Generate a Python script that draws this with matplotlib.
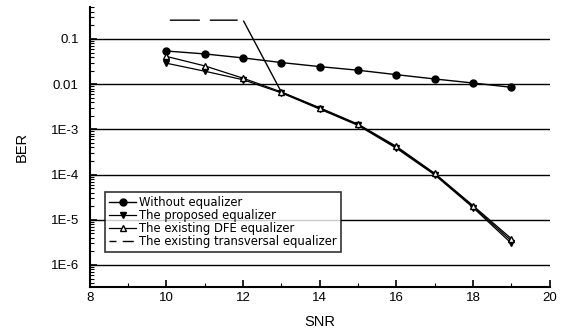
import matplotlib
matplotlib.use("Agg")
import matplotlib.pyplot as plt
from matplotlib.lines import Line2D
from matplotlib.ticker import LogLocator, FixedLocator, NullFormatter

snr = [10, 11, 12, 13, 14, 15, 16, 17, 18, 19]
ber_without = [0.054, 0.0466, 0.038, 0.030, 0.0244, 0.0203, 0.0162, 0.013, 0.0106, 0.0085]
ber_proposed = [0.029, 0.0193, 0.0125, 0.0064, 0.0028, 0.00122, 3.8e-4, 9.8e-5, 1.85e-5, 3.0e-6]
ber_dfe = [0.041, 0.0253, 0.0135, 0.0067, 0.0030, 0.00130, 4.2e-4, 1.06e-4, 2.05e-5, 3.8e-6]
ber_transversal = [0.26, 0.26, 0.26, 0.0066, 0.0029, 0.00126, 4.0e-4, 1.02e-4, 1.95e-5, 3.4e-6]

ytick_vals = [1e-6, 1e-5, 1e-4, 1e-3, 1e-2, 1e-1]
ytick_labels = ["1E-6", "1E-5", "1E-4", "1E-3", "0.01", "0.1"]
xtick_vals = [8, 10, 12, 14, 16, 18, 20]

plt.rcParams['font.family'] = ['Liberation Sans', 'DejaVu Sans']

fig = plt.figure(figsize=(5.65, 3.31), dpi=100)
ax = fig.add_axes([0.159, 0.132, 0.814, 0.847])
ax.set_yscale('log')
ax.set_xlim(8, 20)
ax.set_ylim(3.2e-7, 0.51)

for v in ytick_vals:
    ax.axhline(v, color='black', lw=1.0, zorder=1)

ax.plot(snr, ber_without, '-', color='black', lw=1.0, marker='o', ms=5,
        mfc='black', mec='black', zorder=3)
ax.plot(snr, ber_proposed, '-', color='black', lw=0.9, marker='v', ms=5,
        mfc='black', mec='black', zorder=3)
ax.plot(snr, ber_dfe, '-', color='black', lw=0.9, marker='^', ms=5,
        mfc='white', mec='black', zorder=3)
ax.plot(snr, ber_transversal, color='black', lw=1.0,
        dashes=(0.01, 2.4, 21.6, 7.2, 20, 4.3, 1000, 1), zorder=2)

ax.spines['top'].set_visible(False)
ax.spines['right'].set_visible(False)
ax.spines['left'].set_linewidth(1.5)
ax.spines['bottom'].set_linewidth(1.5)

ax.yaxis.set_major_locator(FixedLocator(ytick_vals))
ax.set_yticklabels(ytick_labels)
ax.yaxis.set_minor_locator(LogLocator(base=10, subs=range(2, 10), numticks=20))
ax.yaxis.set_minor_formatter(NullFormatter())
ax.set_xticks(xtick_vals)
ax.set_xticks([9, 11, 13, 15, 17, 19], minor=True)
ax.tick_params(which='major', direction='in', length=5, width=1.2, labelsize=9.5, colors='black')
ax.tick_params(which='minor', direction='in', length=3, width=0.8)
ax.tick_params(axis='y', pad=8)

ax.set_xlabel('SNR', fontsize=10.5, labelpad=8)
ax.set_ylabel('BER', fontsize=10.5, labelpad=16)

handles = [
    Line2D([], [], color='black', lw=1.0, marker='o', ms=5, mfc='black', mec='black'),
    Line2D([], [], color='black', lw=0.9, marker='v', ms=5, mfc='black', mec='black'),
    Line2D([], [], color='black', lw=0.9, marker='^', ms=5, mfc='white', mec='black'),
    Line2D([], [], color='black', lw=1.0, dashes=(5, 4.5, 8, 10)),
]
labels = ['Without equalizer', 'The proposed equalizer',
          'The existing DFE equalizer', 'The existing transversal equalizer']
leg = ax.legend(handles, labels, loc='lower left', bbox_to_anchor=(0.033, 0.126),
                prop={'family': 'DejaVu Sans', 'size': 8.4}, frameon=True,
                fancybox=False, shadow=False, handlelength=2.3, borderpad=0.35,
                labelspacing=0.0, handletextpad=0.3, borderaxespad=0)
leg.get_frame().set_edgecolor('black')
leg.get_frame().set_linewidth(1.2)
leg.set_zorder(5)

fig.savefig('out.png', dpi=100)
